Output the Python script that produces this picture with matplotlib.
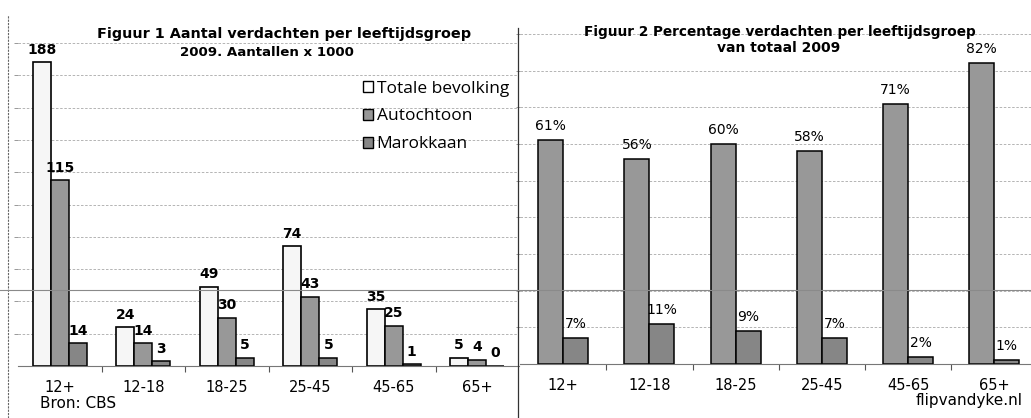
import numpy as np
import matplotlib
matplotlib.use('Agg')
import matplotlib.pyplot as plt
from matplotlib.patches import Patch
from matplotlib.lines import Line2D

# data
groepen = ['12+', '12-18', '18-25', '25-45', '45-65', '65+']
totaal = [188, 24, 49, 74, 35, 5]
autochtoon = [115, 14, 30, 43, 25, 4]
marokkaan = [14, 3, 5, 5, 1, 0]

pct_autochtoon = [61, 56, 60, 58, 71, 82]
pct_marokkaan = [7, 11, 9, 7, 2, 1]

reeksen = ['Totale bevolking', 'Autochtoon', 'Marokkaan']

kleur_wit = '#f6f6f6'
kleur_auto = '#989898'
kleur_mar = '#868686'
grid_kleur = '#a8a8a8'

W, H = 1031, 418
fig = plt.figure(figsize=(W / 100, H / 100), dpi=100)
fig.patch.set_facecolor('white')


def px(x0, y_top, x1, y_bot):
    # pixel box -> figure fractions
    return [x0 / W, (H - y_bot) / H, (x1 - x0) / W, (y_bot - y_top) / H]


def opmaak(ax, ymax, stap):
    ax.set_ylim(0, ymax)
    ax.set_xlim(-0.5, len(groepen) - 0.5)
    ax.set_yticks(np.arange(stap, ymax + 0.1, stap))
    ax.yaxis.grid(True, color=grid_kleur, linestyle=(0, (3, 2)), linewidth=0.6)
    ax.set_axisbelow(True)
    ax.tick_params(axis='y', length=3, width=0.6, color='#888888', labelleft=False)
    ax.set_xticks(np.arange(len(groepen)))
    ax.set_xticklabels(groepen, fontsize=10.5, family='DejaVu Sans')
    ax.tick_params(axis='x', length=0, pad=10)
    # kleine streepjes tussen de groepen
    ax.set_xticks(np.arange(len(groepen) - 1) + 0.5, minor=True)
    ax.tick_params(axis='x', which='minor', length=4, width=0.8, color='#555555')
    for s in ['top', 'right', 'left']:
        ax.spines[s].set_visible(False)
    ax.spines['bottom'].set_color('#777777')
    ax.spines['bottom'].set_linewidth(0.8)


# Figuur 1 - aantallen
ax1 = fig.add_axes(px(18, 43, 519, 366))
x = np.arange(len(groepen))
b = 0.216
bars_t = ax1.bar(x - b, totaal, b, color=kleur_wit, edgecolor='black', linewidth=1.2)
bars_a = ax1.bar(x, autochtoon, b, color=kleur_auto, edgecolor='black', linewidth=1.1)
bars_m = ax1.bar(x + b, marokkaan, b, color=kleur_mar, edgecolor='black', linewidth=1.1)
for bars in [bars_t, bars_a, bars_m]:
    ax1.bar_label(bars, padding=4, fontsize=10, fontweight='bold', family='DejaVu Sans')
opmaak(ax1, 200, 20)

handles = [Patch(facecolor='white', edgecolor='black', linewidth=1.0),
           Patch(facecolor=kleur_auto, edgecolor='black', linewidth=1.0),
           Patch(facecolor=kleur_mar, edgecolor='black', linewidth=1.0)]
fig.legend(handles, reeksen, loc='upper left', bbox_to_anchor=(354 / W, 1 - 72 / H),
           frameon=False, prop={'family': 'Open Sans', 'size': 12.5},
           handlelength=0.6, handleheight=0.6, handletextpad=0.2, labelspacing=0.68,
           borderpad=0)

fig.text(284 / W, 1 - 34 / H, 'Figuur 1 Aantal verdachten per leeftijdsgroep',
         ha='center', va='center', fontsize=10.4, fontweight='bold', family='DejaVu Sans')
fig.text(267 / W, 1 - 52 / H, '2009. Aantallen x 1000',
         ha='center', va='center', fontsize=9.6, fontweight='bold', family='DejaVu Sans')
fig.text(40 / W, 1 - 403 / H, 'Bron: CBS', ha='left', va='center',
         fontsize=11, family='DejaVu Sans')

# Figuur 2 - percentages
ax2 = fig.add_axes(px(520, 34, 1037.5, 364))
b2 = 0.29
bars_pa = ax2.bar(x - b2 / 2, pct_autochtoon, b2, color=kleur_auto, edgecolor='black', linewidth=1.1)
bars_pm = ax2.bar(x + b2 / 2, pct_marokkaan, b2, color=kleur_mar, edgecolor='black', linewidth=1.1)
for bars in [bars_pa, bars_pm]:
    ax2.bar_label(bars, labels=[f'{v}%' for v in bars.datavalues], padding=5,
                  fontsize=10, family='DejaVu Sans')
opmaak(ax2, 90, 10)

fig.text(780 / W, 1 - 32 / H, 'Figuur 2 Percentage verdachten per leeftijdsgroep',
         ha='center', va='center', fontsize=9.8, fontweight='bold', family='DejaVu Sans')
fig.text(779 / W, 1 - 48 / H, 'van totaal 2009',
         ha='center', va='center', fontsize=10, fontweight='bold', family='DejaVu Sans')
fig.text(1023 / W, 1 - 400 / H, 'flipvandyke.nl', ha='right', va='center',
         fontsize=11, family='DejaVu Sans')

# randen van de scan
fig.add_artist(Line2D([8 / W, 8 / W], [0, 1 - 15 / H], color='#666666',
                      linewidth=0.8, linestyle=(0, (2, 1))))
fig.add_artist(Line2D([518 / W, 518 / W], [0, 1 - 28 / H], color='#333333', linewidth=0.9))
fig.add_artist(Line2D([0, 1], [1 - 290 / H, 1 - 290 / H], color='#8a8a8a', linewidth=0.8))

fig.savefig('out.png', dpi=100)
